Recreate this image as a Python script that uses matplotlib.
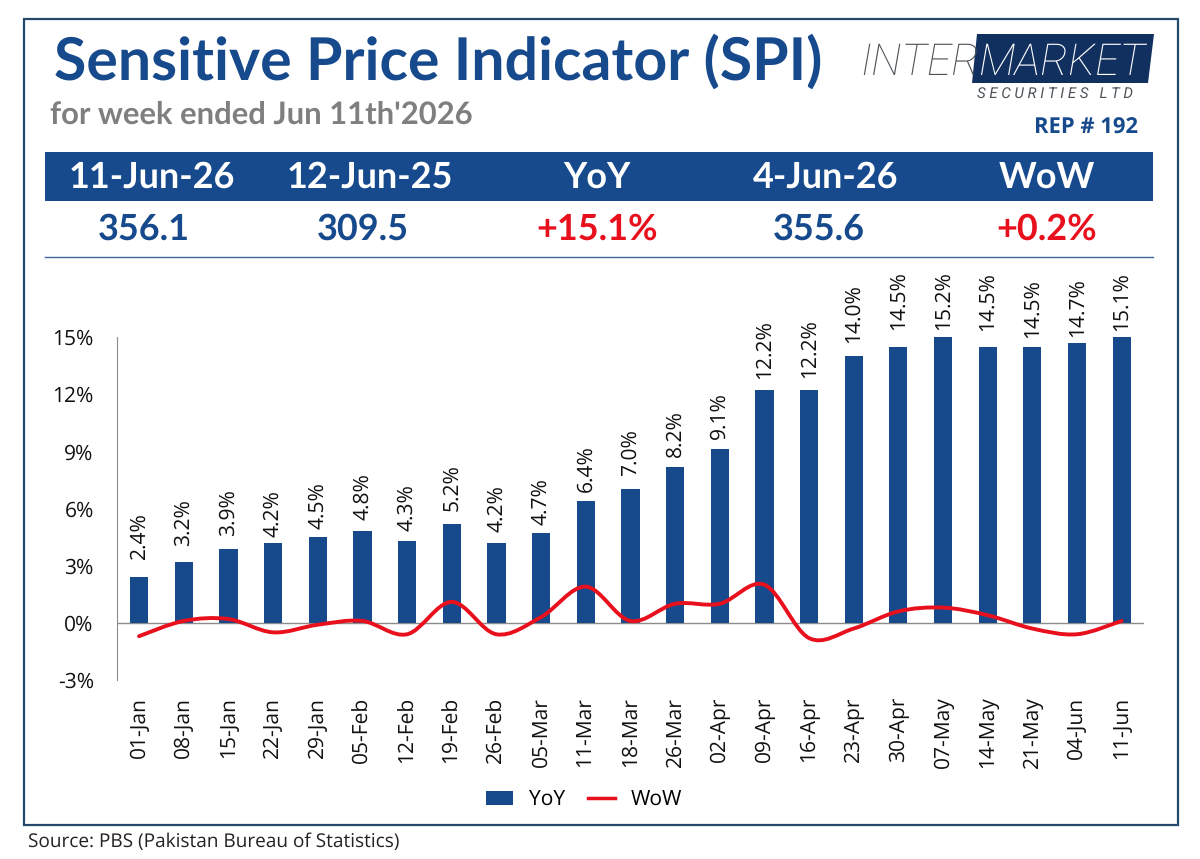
import matplotlib
matplotlib.use('Agg')
import matplotlib.pyplot as plt
from matplotlib.patches import Polygon, Rectangle, PathPatch
from matplotlib.path import Path
from matplotlib.lines import Line2D

plt.rcParams['text.hinting'] = 'none'
plt.rcParams['text.hinting_factor'] = 1

weeks = ['01-Jan', '08-Jan', '15-Jan', '22-Jan', '29-Jan', '05-Feb', '12-Feb', '19-Feb',
         '26-Feb', '05-Mar', '11-Mar', '18-Mar', '26-Mar', '02-Apr', '09-Apr', '16-Apr',
         '23-Apr', '30-Apr', '07-May', '14-May', '21-May', '04-Jun', '11-Jun']
yoy = [2.4, 3.2, 3.9, 4.2, 4.5, 4.8, 4.3, 5.2, 4.2, 4.7, 6.4, 7.0, 8.2, 9.1, 12.2, 12.2,
       14.0, 14.5, 15.2, 14.5, 14.5, 14.7, 15.1]
wow = [-0.7, 0.1, 0.2, -0.5, -0.1, 0.1, -0.6, 1.1, -0.6, 0.3, 1.9, 0.1, 1.0, 1.0, 2.0, -0.8,
       -0.3, 0.6, 0.8, 0.4, -0.3, -0.6, 0.1]
yticks = [-3, 0, 3, 6, 9, 12, 15]
header_cols = ['11-Jun-26', '12-Jun-25', 'YoY', '4-Jun-26', 'WoW']
header_vals = ['356.1', '309.5', '+15.1%', '355.6', '+0.2%']

# gap above each bar in pixels, the labels were nudged by hand in the original
label_gap = [18, 16, 13, 6, 8, 11, 10, 13, 11, 8, 9, 13, 10, 10, 11, 12, 13, 17, 7, 16, 9, 6, 6]
col_x = [152, 370, 597, 826, 1047]
val_x = [144, 363, 597, 819, 1047]

BLUE = '#174a8c'
RED = '#e8101c'
NAVY = '#12305f'
TXT = 'Open Sans'
HEAD = 'Lato'


def smooth_path(xs, ys):
    '''Excel style smoothed line, bezier segments through the data points.'''
    verts = [(xs[0], ys[0])]
    codes = [Path.MOVETO]
    n = len(xs)
    for i in range(n - 1):
        x0, y0 = (xs[i - 1], ys[i - 1]) if i > 0 else (xs[i], ys[i])
        x3, y3 = (xs[i + 2], ys[i + 2]) if i < n - 2 else (xs[i + 1], ys[i + 1])
        verts.append((xs[i] + (xs[i + 1] - x0) / 6, ys[i] + (ys[i + 1] - y0) / 6))
        verts.append((xs[i + 1] - (x3 - xs[i]) / 6, ys[i + 1] - (y3 - ys[i]) / 6))
        verts.append((xs[i + 1], ys[i + 1]))
        codes += [Path.CURVE4] * 3
    return Path(verts, codes)


fig = plt.figure(figsize=(12, 8.59), dpi=100)

# page layer in pixel coordinates, for the header and the logo
bg = fig.add_axes([0, 0, 1, 1])
bg.set_xlim(0, 1200)
bg.set_ylim(859, 0)
bg.axis('off')

bg.add_patch(Rectangle((23.5, 18.5), 1154.5, 806.5, fill=False, ec='#24496b', lw=1.6))
bg.text(54, 80, 'Sensitive Price Indicator (SPI)', color=BLUE, fontsize=42.2, fontweight='bold',
        family=HEAD, va='baseline', ha='left')
bg.text(50, 124, "for week ended Jun 11th'2026", color='#7f7f7f', fontsize=22.6, fontweight='bold',
        family=HEAD, va='baseline', ha='left')

# logo
bg.add_patch(Polygon([(977, 34), (1154, 34), (1148, 83), (972, 83)], fc=NAVY, ec='none'))
bg.text(860, 75, 'INTER', color='#4d5358', fontsize=32, style='italic', family='Roboto',
        fontweight='light', va='baseline', ha='left')
bg.text(978, 75, 'MARKET', color='white', fontsize=32, style='italic', family='Roboto',
        fontweight='light', va='baseline', ha='left')
bg.text(977, 95, 'S E C U R I T I E S   L T D', color='#4d5358', fontsize=11, style='italic',
        family='Roboto', va='center', ha='left')
bg.text(1138, 128, 'REP # 192', color=BLUE, fontsize=16, fontweight='bold', family=TXT,
        va='center', ha='right')

bg.add_patch(Rectangle((45, 152), 1108, 49, fc=BLUE, ec='none'))
bg.plot([45, 1153], [257, 257], color='#3d6a9e', lw=1)
for x, col in zip(col_x, header_cols):
    bg.text(x, 177, col, color='white', fontsize=25.8, fontweight='bold', family=HEAD,
            ha='center', va='center')
for x, val in zip(val_x, header_vals):
    bg.text(x, 229, val, color=RED if val.startswith('+') else BLUE, fontsize=25.8,
            fontweight='bold', family=HEAD, ha='center', va='center')
bg.text(28, 842, 'Source: PBS (Pakistan Bureau of Statistics)', color='#222222', fontsize=13.4,
        family=TXT, va='center', ha='left')

# chart, placed so -3% and 15% land on the reference rows
ax = fig.add_axes([116.7 / 1200, (859 - 680) / 859, (1144 - 116.7) / 1200, (680 - 337) / 859])
ax.patch.set_alpha(0)
pos = list(range(len(weeks)))
ax.bar(pos, yoy, width=0.41, color=BLUE, zorder=2)
ax.axhline(0, color='#8c8c8c', lw=1, zorder=1)
ax.add_patch(PathPatch(smooth_path(pos, wow), fc='none', ec=RED, lw=2.8, zorder=3,
                       capstyle='round'))
for p, v, gap in zip(pos, yoy, label_gap):
    ax.annotate(f'{v:.1f}%', (p, min(v, 15)), xytext=(0, gap * 0.72), textcoords='offset points',
                rotation=90, ha='center', va='bottom', fontsize=14.8, family=TXT,
                color='#111111', annotation_clip=False)

ax.set_xlim(-0.5, len(weeks) - 0.5)
ax.set_ylim(-3, 15)
ax.set_yticks(yticks)
ax.set_yticklabels([f'{t}%' for t in yticks], fontsize=15.4, family=TXT, color='#111111')
ax.set_xticks(pos)
ax.set_xticklabels(weeks, rotation=90, fontsize=14.8, family=TXT, color='#111111')
ax.tick_params(axis='both', length=0)
ax.tick_params(axis='y', pad=16.5)
ax.tick_params(axis='x', pad=12)
for side in ['top', 'right', 'bottom']:
    ax.spines[side].set_visible(False)
ax.spines['left'].set_color('#8c8c8c')

handles = [Rectangle((0, 0), 1, 1, fc=BLUE, ec='none'), Line2D([], [], color=RED, lw=2.5)]
fig.legend(handles, ['YoY', 'WoW'], loc='center', bbox_to_anchor=(584 / 1200, 1 - 800 / 859),
           ncol=2, frameon=False, prop={'family': TXT, 'size': 15.3}, handlelength=1.25,
           handleheight=0.6, columnspacing=1.1, handletextpad=0.75)

fig.savefig('out.png', dpi=100)
